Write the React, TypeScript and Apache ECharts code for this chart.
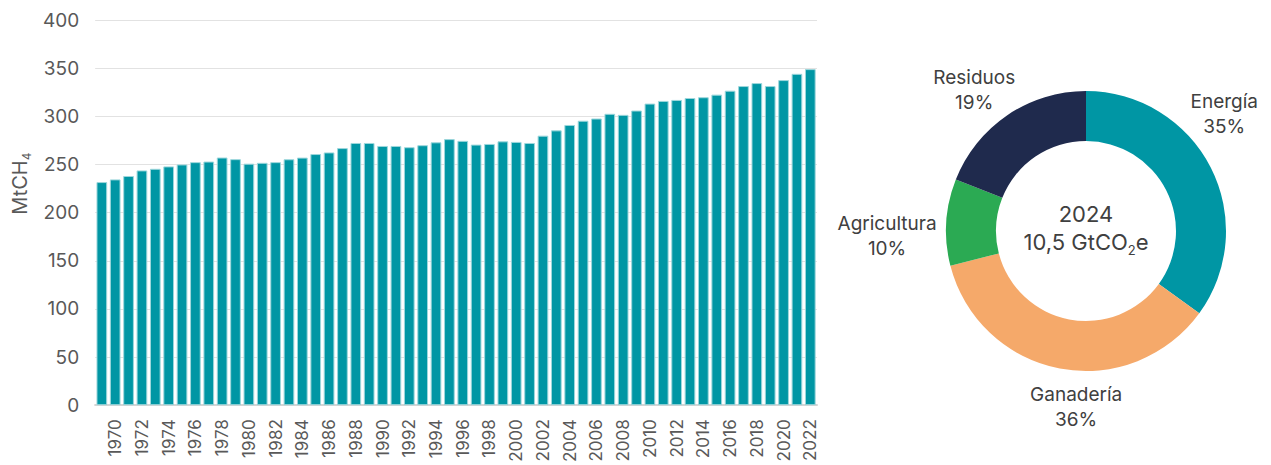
import React, { useEffect, useRef } from "react";
import * as echarts from "echarts";

const YEARS = [
  "1969", "1970", "1971", "1972", "1973", "1974", "1975", "1976", "1977", "1978",
  "1979", "1980", "1981", "1982", "1983", "1984", "1985", "1986", "1987", "1988",
  "1989", "1990", "1991", "1992", "1993", "1994", "1995", "1996", "1997", "1998",
  "1999", "2000", "2001", "2002", "2003", "2004", "2005", "2006", "2007", "2008",
  "2009", "2010", "2011", "2012", "2013", "2014", "2015", "2016", "2017", "2018",
  "2019", "2020", "2021", "2022",
];

const METHANE = [
  231.7, 234.5, 238, 243.8, 245.5, 248, 250, 252.4, 253, 257.2,
  255.5, 250.8, 251.7, 252.4, 255.4, 257.1, 260.8, 262.5, 267, 272.3,
  272.3, 269.2, 269.2, 267.9, 270, 273, 276.3, 274.5, 270.6, 271.3,
  274, 273.4, 272.3, 279.9, 285.4, 291, 295.4, 297.7, 302.6, 301.5,
  306, 313.2, 316, 317, 319, 319.8, 322.5, 326.6, 331.4, 334.5,
  331.4, 337.6, 344.1, 349,
];

const Y_TICKS = { min: 0, max: 400, interval: 50 };

const SECTORS = ["Energía", "Ganadería", "Agricultura", "Residuos"];
const SHARES = [35, 36, 10, 19];
const SECTOR_COLORS = ["#0096A4", "#F5A96A", "#2BAA53", "#1F2A4D"];

const CENTER_YEAR = "2024";
const CENTER_TOTAL = "10,5 GtCO";

// label placement (styling): polar angle (deg from top, clockwise) and radius
const LABEL_ANGLE = [49.8, 183.2, 268.5, 321.6];
const LABEL_RADIUS = [181, 176.5, 199, 180];

const CX = 1086;
const CY = 231;
const FONT = "Inter, 'Noto Sans', sans-serif";
const TEXT = "#595959";

export default function App() {
  const ref = useRef<HTMLDivElement>(null);

  useEffect(() => {
    document.body.style.margin = "0";
    if (!ref.current) return;
    const chart = echarts.init(ref.current, null, { renderer: "svg" });
    chart.setOption({
      animation: false,
      backgroundColor: "#ffffff",
      textStyle: { fontFamily: FONT },
      grid: { left: 93, top: 20, width: 724, height: 386.5, containLabel: false },
      xAxis: {
        type: "category",
        data: YEARS,
        boundaryGap: true,
        axisLine: { show: true, lineStyle: { color: "#d4d4d4", width: 2 } },
        axisTick: { show: false },
        axisLabel: {
          rotate: 90,
          interval: (i: number) => i % 2 === 1,
          color: TEXT,
          fontSize: 17,
          fontFamily: FONT,
          margin: 14,
          padding: [0, 0, 14, 0],
        },
      },
      yAxis: {
        type: "value",
        min: Y_TICKS.min,
        max: Y_TICKS.max,
        interval: Y_TICKS.interval,
        axisLine: { show: false },
        axisTick: { show: false },
        splitLine: { lineStyle: { color: "#e2e2e2", width: 1 } },
        axisLabel: { color: TEXT, fontSize: 19, fontFamily: FONT, margin: 16 },
        name: "MtCH{s|4}",
        nameLocation: "middle",
        nameGap: 63,
        nameRotate: 90,
        nameTextStyle: {
          color: TEXT,
          fontSize: 20,
          fontFamily: FONT,
          lineHeight: 24,
          padding: [0, 0, 0, 58],
          rich: {
            s: { fontSize: 12, color: TEXT, fontFamily: FONT, lineHeight: 12, verticalAlign: "bottom" },
          },
        },
      },
      series: [
        {
          type: "bar",
          data: METHANE,
          barCategoryGap: "20%",
          itemStyle: { color: "#0096A4", borderColor: "#9dd7dc", borderWidth: 1 },
        },
        {
          type: "pie",
          center: [CX, CY],
          radius: [90, 140],
          startAngle: 90,
          clockwise: true,
          avoidLabelOverlap: false,
          data: SECTORS.map((name, i) => ({
            name,
            value: SHARES[i],
            itemStyle: { color: SECTOR_COLORS[i] },
          })),
          label: {
            show: true,
            position: "outside",
            formatter: "{b}\n{c}%",
            color: "#404040",
            fontSize: 19,
            lineHeight: 25,
            fontFamily: FONT,
          },
          labelLine: { show: false },
          labelLayout: (params: any) => {
            const i = params.dataIndex;
            const a = (LABEL_ANGLE[i] * Math.PI) / 180;
            return {
              x: CX + LABEL_RADIUS[i] * Math.sin(a),
              y: CY - LABEL_RADIUS[i] * Math.cos(a),
              align: "center",
              verticalAlign: "middle",
            };
          },
          emphasis: { disabled: true },
        },
      ],
      graphic: [
        {
          type: "text",
          x: CX,
          y: 228,
          silent: true,
          style: {
            text: `{a|${CENTER_YEAR}}\n{a|${CENTER_TOTAL}}{s|2}{a|e}`,
            align: "center",
            verticalAlign: "middle",
            fill: "#404040",
            rich: {
              a: { fontSize: 22, lineHeight: 28, fill: "#404040", fontFamily: FONT },
              s: { fontSize: 13, lineHeight: 6, verticalAlign: "bottom", fill: "#404040", fontFamily: FONT },
            },
          },
        },
      ],
    });
    return () => chart.dispose();
  }, []);

  return <div ref={ref} style={{ width: 1271, height: 465 }} />;
}
